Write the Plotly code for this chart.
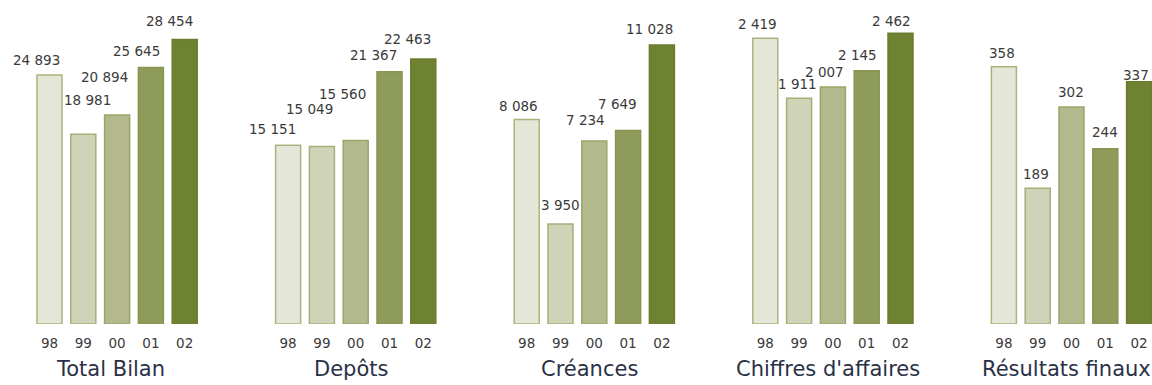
import plotly.graph_objects as go

# ---- data ----
years = ["98", "99", "00", "01", "02"]
panel_titles = ["Total Bilan", "Depôts", "Créances", "Chiffres d'affaires", "Résultats finaux"]
total_bilan = [24893, 18981, 20894, 25645, 28454]
depots = [15151, 15049, 15560, 21367, 22463]
creances = [8086, 3950, 7234, 7649, 11028]
chiffres_affaires = [2419, 1911, 2007, 2145, 2462]
resultats_finaux = [358, 189, 302, 244, 337]
series = [total_bilan, depots, creances, chiffres_affaires, resultats_finaux]

# ---- style ----
W, H = 1152, 385
bar_fill = ["#e4e6d7", "#d0d3b8", "#b3b98c", "#8f9b5b", "#6f8231"]
bar_line = ["#a9b47c", "#a5b077", "#9aa768", "#87954f", "#6a7d2e"]
num_color = "#3a3a3a"
title_color = "#2a3146"
FONT = "DejaVu Sans"

# y-axis max per panel (scale) and plot-area geometry in pixels
y_max = [31400, 26610, 12411, 2659, 437]
plot_top, plot_bottom = 10, 324
first_center, panel_pitch, bar_pitch = 49.5, 238.6, 33.8

# value-label offsets (px) relative to bar centre / top
label_dx = [[-13.5, 4.5, -13, -14.5, -15.5],
            [-15.5, -12, -13.5, -16, -16],
            [-8.5, 0, -9, -11, -12.5],
            [-8, -1.5, -8.5, -9.5, -9],
            [-2, -1.5, -1, 0, -3]]
label_dy = [[15, 34, 38, 17, 18],
            [16, 37, 46, 17, 20],
            [13, 19, 21, 26, 16],
            [14, 14, 15, 16, 12],
            [14, 14, 15, 17, 7]]
title_dx = [-7, -5, -5, -5, -5]

fig = go.Figure()
annotations = []
for k, vals in enumerate(series):
    ax = "" if k == 0 else str(k + 1)
    start = first_center + panel_pitch * k - bar_pitch / 2
    end = start + bar_pitch * 5
    xr = [-0.5, 4.5]
    if end > W:
        xr = [-0.5, 4.5 - (end - W) / bar_pitch]
        end = W
    fig.add_trace(go.Bar(
        x=years, y=vals, xaxis="x" + ax, yaxis="y" + ax,
        marker=dict(color=bar_fill, line=dict(color=bar_line, width=1.5)),
        hoverinfo="x+y", showlegend=False,
    ))
    fig.layout["xaxis" + ax] = dict(
        domain=[start / W, end / W], range=xr, type="category",
        anchor="y" + ax, showgrid=False, zeroline=False, showline=False,
        ticks="", ticklabelstandoff=9,
        tickfont=dict(family=FONT, size=13.5, color=num_color),
        fixedrange=True,
    )
    fig.layout["yaxis" + ax] = dict(
        domain=[1 - plot_bottom / H, 1 - plot_top / H], range=[0, y_max[k]],
        anchor="x" + ax, visible=False, fixedrange=True,
    )
    for i, v in enumerate(vals):
        annotations.append(dict(
            xref="x" + ax, yref="y" + ax, x=i, y=v,
            text=f"{v:,}".replace(",", " "), showarrow=False,
            xanchor="center", yanchor="middle",
            xshift=label_dx[k][i], yshift=label_dy[k][i],
            font=dict(family=FONT, size=13.5, color=num_color),
        ))
    annotations.append(dict(
        xref="x" + ax, yref="paper", x=2, y=1 - 369 / H,
        text=panel_titles[k], showarrow=False, xanchor="center", yanchor="middle",
        xshift=title_dx[k], font=dict(family=FONT, size=21, color=title_color),
    ))

fig.update_layout(
    width=W, height=H, margin=dict(l=0, r=0, t=0, b=0),
    paper_bgcolor="white", plot_bgcolor="white",
    bargap=0.26, annotations=annotations,
)
fig.write_html("out.html", config={"displayModeBar": False},
               post_script="document.body.style.margin='0';")
